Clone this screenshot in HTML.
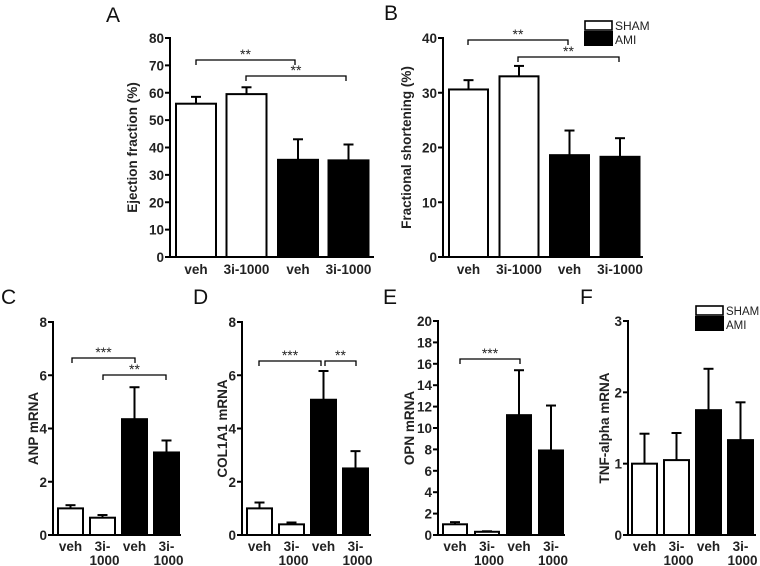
<!DOCTYPE html>
<html><head><meta charset="utf-8"><style>
html,body{margin:0;padding:0;background:#fff;}
svg{display:block;font-family:"Liberation Sans",Arial,sans-serif;}
.tk{font-size:13.5px;font-weight:bold;fill:#222;}
.tt{font-size:13.5px;font-weight:bold;fill:#222;}
.lt{font-size:21px;fill:#111;}
.st{font-size:14px;fill:#222;}
</style></head><body>
<svg id="fig" width="760" height="566" viewBox="0 0 760 566"></svg>
<script>
const groupsTop = ["veh","3i-1000","veh","3i-1000"];
const groupsBottom = [["veh"],["3i-","1000"],["veh"],["3i-","1000"]];
const efMeans = [56, 59.5, 35.5, 35.3];
const efErr = [2.5, 2.5, 7.5, 5.8];
const fsMeans = [30.6, 33.0, 18.6, 18.3];
const fsErr = [1.7, 1.9, 4.5, 3.4];
const anpMeans = [1.0, 0.65, 4.35, 3.1];
const anpErr = [0.12, 0.1, 1.2, 0.45];
const colMeans = [1.0, 0.4, 5.08, 2.5];
const colErr = [0.22, 0.07, 1.08, 0.65];
const opnMeans = [1.0, 0.3, 11.2, 7.9];
const opnErr = [0.2, 0.05, 4.2, 4.2];
const tnfMeans = [1.0, 1.05, 1.75, 1.33];
const tnfErr = [0.42, 0.38, 0.58, 0.53];
const efTicks = [0,10,20,30,40,50,60,70,80];
const fsTicks = [0,10,20,30,40];
const anpTicks = [0,2,4,6,8];
const colTicks = [0,2,4,6,8];
const opnTicks = [0,2,4,6,8,10,12,14,16,18,20];
const tnfTicks = [0,1,2,3];

const NS="http://www.w3.org/2000/svg";
const svg=document.getElementById('fig');
function mk(tag,attrs,parent,text){const e=document.createElementNS(NS,tag);for(const k in attrs)e.setAttribute(k,attrs[k]);if(text!==undefined)e.textContent=text;(parent||svg).appendChild(e);return e;}

function panel(p){
  const g=mk('g',{});
  
  
  const ymax=p.ticks[p.ticks.length-1];
  const y=v=>p.y0-(v/ymax)*(p.y0-p.yTop);
  const lt=mk('text',{x:p.lx,y:p.ly,class:'lt'},g,p.letter);
  
  
  p.means.forEach((m,i)=>{
    const x=p.barX0+i*p.step+(i>=2?p.gap:0);
    const top=y(m), et=y(m+p.err[i]);
    const el=mk('line',{x1:x+p.bw/2,x2:x+p.bw/2,y1:top,y2:et,stroke:'#000','stroke-width':2},g);
    
    
    mk('line',{x1:x+p.bw/2-5,x2:x+p.bw/2+5,y1:et,y2:et,stroke:'#000','stroke-width':2},g);
    const r=mk('rect',{x:x+1,y:top,width:p.bw-2,height:p.y0-top,fill:i<2?'#fff':'#000',stroke:'#000','stroke-width':2},g);
    
    
    const cx=x+p.bw/2;
    const lab=p.labels[i];
    const lines=Array.isArray(lab)?lab:[lab];
    lines.forEach((s,j)=>{
      const t=mk('text',{x:cx+(j>0?2:0),y:p.y0+(p.lab1||16)+j*14,'text-anchor':'middle',class:'tk'},g,s);
      
      
    });
  });
  const ya=mk('line',{x1:p.ax,x2:p.ax,y1:p.yTop-1,y2:p.y0+1,stroke:'#000','stroke-width':2},g);
  
  
  const xa=mk('line',{x1:p.ax-1,x2:p.axEnd,y1:p.y0,y2:p.y0,stroke:'#000','stroke-width':2},g);
  
  
  p.ticks.forEach(v=>{
    mk('line',{x1:p.ax-5,x2:p.ax,y1:y(v),y2:y(v),stroke:'#000','stroke-width':2},g);
    const t=mk('text',{x:p.ax-6,y:y(v)+5,'text-anchor':'end',class:'tk'},g,String(v));
    
    
  });
  const cy=(p.y0+p.yTop)/2;
  const yt=mk('text',{x:p.tx,y:cy,'text-anchor':'middle',class:'tt',transform:`rotate(-90 ${p.tx} ${cy})`},g,p.title);
  
  
  (p.brackets||[]).forEach(b=>{
    const bl=mk('path',{d:`M${b[0]} ${b[2]+5} V${b[2]} H${b[1]} V${b[2]+5}`,fill:'none',stroke:'#000','stroke-width':1.3},g);
    
    
    const st=mk('text',{x:(b[0]+b[1])/2,y:b[2]-1,'text-anchor':'middle',class:'st'},g,b[3]);
    
    
  });
  if(p.legend){
    const [lx,ly,bw,fs]=p.legend;
    const lg=mk('g',{},g);
    
    
    mk('rect',{x:lx+1,y:ly+1,width:bw-2,height:9,fill:'#fff',stroke:'#000','stroke-width':1.6},lg);
    mk('text',{x:lx+bw+2,y:ly+10,'font-size':fs,fill:'#222'},lg,'SHAM');
    mk('rect',{x:lx,y:ly+11,width:bw,height:15,fill:'#000'},lg);
    mk('text',{x:lx+bw+2,y:ly+24,'font-size':fs,fill:'#222'},lg,'AMI');
  }
}

panel({name:'panel-a-ejection-fraction',letter:'A',lx:106,ly:22,means:efMeans,err:efErr,ticks:efTicks,labels:groupsTop,
  ax:170,axEnd:374,yTop:38,y0:257,barX0:175,step:50.5,gap:1,bw:42,tx:137,title:'Ejection fraction (%)',lab1:17,
  brackets:[[196,295,60,'**'],[246,346,76,'**']]});
panel({name:'panel-b-fractional-shortening',letter:'B',lx:384,ly:20,means:fsMeans,err:fsErr,ticks:fsTicks,labels:groupsTop,
  ax:443,axEnd:643,yTop:38,y0:257,barX0:448,step:50.5,gap:0,bw:41,tx:411,title:'Fractional shortening (%)',lab1:17,
  brackets:[[468,568,40,'**'],[518,619,57,'**']],legend:[584,20,29,12]});
panel({name:'panel-c-anp',letter:'C',lx:1,ly:304,means:anpMeans,err:anpErr,ticks:anpTicks,labels:groupsBottom,
  ax:53,axEnd:181,yTop:322,y0:535,barX0:57,step:32,gap:0,bw:27,tx:38,title:'ANP mRNA',
  brackets:[[72,135,358,'***'],[103,166,375,'**']]});
panel({name:'panel-d-col1a1',letter:'D',lx:193,ly:304,means:colMeans,err:colErr,ticks:colTicks,labels:groupsBottom,
  ax:242,axEnd:371,yTop:322,y0:535,barX0:246,step:32,gap:0,bw:27,tx:227,title:'COL1A1 mRNA',
  brackets:[[259,321,361,'***'],[325,356,361,'**']]});
panel({name:'panel-e-opn',letter:'E',lx:383,ly:304,means:opnMeans,err:opnErr,ticks:opnTicks,labels:groupsBottom,
  ax:438,axEnd:565,yTop:321,y0:535,barX0:442,step:32,gap:0,bw:26,tx:414,title:'OPN mRNA',
  brackets:[[460,520,359,'***']]});
panel({name:'panel-f-tnf-alpha',letter:'F',lx:580,ly:304,means:tnfMeans,err:tnfErr,ticks:tnfTicks,labels:groupsBottom,
  ax:628,axEnd:756,yTop:321,y0:535,barX0:631,step:32,gap:0,bw:27,tx:609,title:'TNF-alpha mRNA',
  legend:[695,305,29,11.5]});
</script>
</body></html>
